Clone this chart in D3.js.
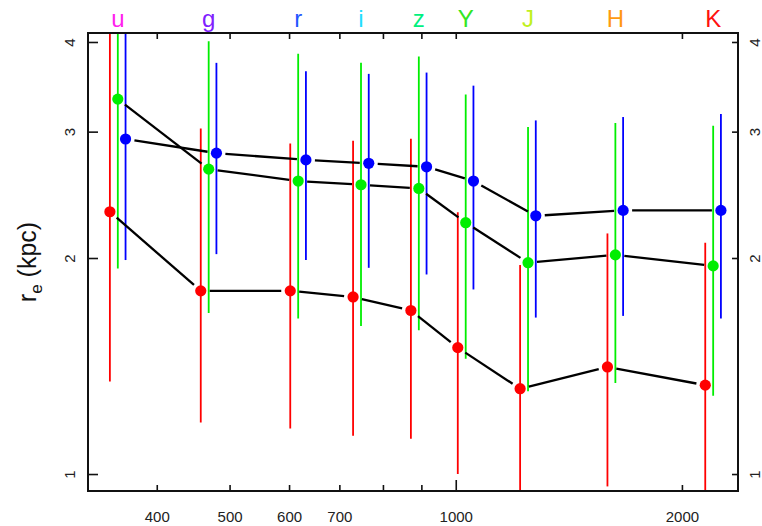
<!DOCTYPE html>
<html>
<head>
<meta charset="utf-8">
<script src="https://cdn.jsdelivr.net/npm/d3@7"></script>
<style>
  html, body { margin: 0; padding: 0; background: #fff; }
  svg { display: block; font-family: "Liberation Sans", Arial, sans-serif; }
</style>
</head>
<body>
<svg id="chart" width="762" height="526"></svg>
<script>
// Photometric bands and their effective wavelengths (nm)
const bands = ["u", "g", "r", "i", "z", "Y", "J", "H", "K"];
const wavelengths = [355, 469, 617, 748, 893, 1031, 1248, 1631, 2201];
const bandColors = ["#ff22ee", "#8020ff", "#2255ff", "#22ddff", "#00f080", "#33e622", "#c0f020", "#ff9a10", "#ff1010"];

// Effective radius (kpc) with lower / upper bounds, three samples
const redVals  = [2.32, 1.80, 1.80, 1.765, 1.69, 1.50, 1.315, 1.41, 1.33];
const redLo    = [1.346, 1.18, 1.157, 1.131, 1.12, 1.0, 0.85, 0.961, 0.85];
const redHi    = [4.6, 3.03, 2.888, 2.913, 2.932, 2.316, 1.955, 2.164, 2.101];

const greenVals = [3.33, 2.66, 2.56, 2.53, 2.50, 2.24, 1.97, 2.02, 1.95];
const greenLo   = [1.934, 1.677, 1.647, 1.608, 1.586, 1.448, 1.304, 1.339, 1.286];
const greenHi   = [4.8, 4.01, 3.851, 3.741, 3.818, 3.379, 3.044, 3.084, 3.057];

const blueVals = [2.93, 2.80, 2.74, 2.71, 2.68, 2.56, 2.29, 2.33, 2.33];
const blueLo   = [1.987, 2.025, 1.987, 1.938, 1.897, 1.808, 1.652, 1.661, 1.647];
const blueHi   = [4.3, 3.741, 3.641, 3.611, 3.626, 3.477, 3.110, 3.144, 3.175];

// Axis ticks
const xTickValues = [400, 500, 600, 700, 800, 900, 1000, 2000];
const xTickLabels = ["400", "500", "600", "700", "", "", "1000", "2000"];
const yTickValues = [1, 2, 3, 4];

// Series: horizontal shift factor so the error bars don't overlap
const series = [
  { color: "#ff0000", shift: 0.976, vals: redVals, lo: redLo, hi: redHi },
  { color: "#00ee00", shift: 1.0, vals: greenVals, lo: greenLo, hi: greenHi },
  { color: "#0000ff", shift: 1.024, vals: blueVals, lo: blueLo, hi: blueHi }
];

const box = { left: 88, right: 738, top: 33, bottom: 491 };
const svg = d3.select("#chart");

const x = d3.scaleLog().domain([324, 2375]).range([box.left, box.right]);
const y = d3.scaleLog().domain([0.947, 4.117]).range([box.bottom, box.top]);

svg.append("defs").append("clipPath").attr("id", "plotClip")
  .append("rect")
  .attr("x", box.left).attr("y", box.top)
  .attr("width", box.right - box.left).attr("height", box.bottom - box.top);

const plot = svg.append("g").attr("clip-path", "url(#plotClip)");

// Error bars
series.forEach(s => {
  plot.append("g").selectAll("line")
    .data(wavelengths.map((w, i) => ({ w: w * s.shift, lo: s.lo[i], hi: s.hi[i] })))
    .join("line")
    .attr("x1", d => x(d.w)).attr("x2", d => x(d.w))
    .attr("y1", d => y(d.lo)).attr("y2", d => y(d.hi))
    .attr("stroke", s.color).attr("stroke-width", 1.8);
});

// Connecting lines, leaving a gap around each point
const gap = 9;
series.forEach(s => {
  const pts = wavelengths.map((w, i) => [x(w * s.shift), y(s.vals[i])]);
  const segs = d3.pairs(pts).map(([a, b]) => {
    const dx = b[0] - a[0], dy = b[1] - a[1];
    const len = Math.hypot(dx, dy);
    const ux = dx / len, uy = dy / len;
    return [a[0] + ux * gap, a[1] + uy * gap, b[0] - ux * gap, b[1] - uy * gap];
  });
  plot.append("g").selectAll("line")
    .data(segs)
    .join("line")
    .attr("x1", d => d[0]).attr("y1", d => d[1])
    .attr("x2", d => d[2]).attr("y2", d => d[3])
    .attr("stroke", "#000").attr("stroke-width", 2.3);
});

// Points
series.forEach(s => {
  plot.append("g").selectAll("circle")
    .data(wavelengths.map((w, i) => ({ w: w * s.shift, v: s.vals[i] })))
    .join("circle")
    .attr("cx", d => x(d.w)).attr("cy", d => y(d.v))
    .attr("r", 5.6).attr("fill", s.color);
});

// Axes (ticks pointing inward)
const bottomAxis = d3.axisBottom(x).tickValues(xTickValues)
  .tickFormat((d, i) => xTickLabels[i]).tickSizeInner(-6).tickSizeOuter(0).tickPadding(20);
const gB = svg.append("g").attr("transform", `translate(0,${box.bottom})`).call(bottomAxis);
gB.selectAll(".tick line").filter(d => d === 1000).attr("y2", -11);

const topAxis = d3.axisTop(x).tickValues(xTickValues).tickFormat("").tickSizeInner(-6).tickSizeOuter(0);
svg.append("g").attr("transform", `translate(0,${box.top})`).call(topAxis);

const leftAxis = d3.axisLeft(y).tickValues(yTickValues).tickFormat(d3.format("d"))
  .tickSizeInner(-10).tickSizeOuter(0);
const gL = svg.append("g").attr("transform", `translate(${box.left},0)`).call(leftAxis);

const rightAxis = d3.axisRight(y).tickValues(yTickValues).tickFormat(d3.format("d"))
  .tickSizeInner(-6).tickSizeOuter(0);
const gR = svg.append("g").attr("transform", `translate(${box.right},0)`).call(rightAxis);

[gB, gL, gR].forEach(g => g.selectAll("text")
  .attr("font-size", 15).attr("font-family", "Liberation Sans, Arial, sans-serif").attr("fill", "#222"));
svg.selectAll(".domain").remove();

// Rotated y tick labels, reading bottom to top
gL.selectAll(".tick text")
  .attr("x", null).attr("dy", null).attr("text-anchor", "middle")
  .attr("transform", "translate(-13,0) rotate(-90)");
gR.selectAll(".tick text")
  .attr("x", null).attr("dy", null).attr("text-anchor", "middle")
  .attr("transform", "translate(22,0) rotate(-90)");

gB.selectAll(".tick text").attr("dy", "0.71em");

svg.selectAll(".tick line").attr("stroke", "#111").attr("stroke-width", 1.6);

// Plot frame
svg.append("rect")
  .attr("x", box.left).attr("y", box.top)
  .attr("width", box.right - box.left).attr("height", box.bottom - box.top)
  .attr("fill", "none").attr("stroke", "#111").attr("stroke-width", 2);

// Band names along the top
svg.append("g").selectAll("text")
  .data(bands)
  .join("text")
  .attr("x", (d, i) => x(wavelengths[i]))
  .attr("y", 27)
  .attr("text-anchor", "middle")
  .attr("font-size", 24)
  .attr("fill", (d, i) => bandColors[i])
  .text(d => d);

// Y axis title
const title = svg.append("text")
  .attr("transform", "translate(36,262) rotate(-90)")
  .attr("text-anchor", "middle")
  .attr("font-size", 25)
  .attr("fill", "#111");
title.append("tspan").text("r");
title.append("tspan").attr("font-size", 17).attr("dy", 6).text("e");
title.append("tspan").attr("dy", -6).text(" (kpc)");
</script>
</body>
</html>
